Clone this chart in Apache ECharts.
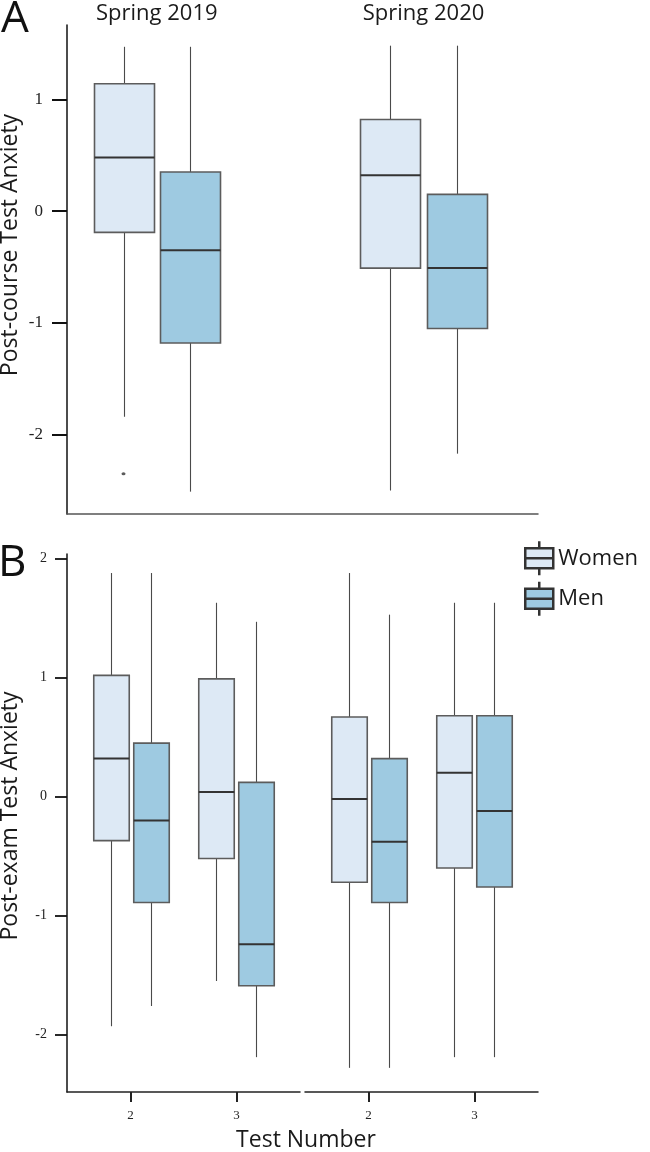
<!DOCTYPE html>
<html>
<head>
<meta charset="utf-8">
<script src="https://cdn.jsdelivr.net/npm/echarts@6/dist/echarts.min.js"></script>
<style>
html,body{margin:0;padding:0;background:#fff;}
#chart{width:650px;height:1152px;}
</style>
</head>
<body>
<div id="chart"></div>
<script>
// ---------- DATA ----------
const seasons = ['Spring 2019', 'Spring 2020'];
const seasonPos = [1, 2];
// Panel A (post-course): [min, Q1, median, Q3, max] per season
const courseWomen = [[-1.84, -0.19, 0.48, 1.14, 1.47], [-2.50, -0.51, 0.32, 0.82, 1.48]];
const courseMen   = [[-2.51, -1.18, -0.35, 0.35, 1.47], [-2.17, -1.05, -0.51, 0.15, 1.48]];
const courseWomenOutliers = [[1, -2.35]];
// Panel B (post-exam): [min, Q1, median, Q3, max] per test number
const tests = [2, 3];
const examWomen2019 = [[-1.93, -0.37, 0.32, 1.02, 1.88], [-1.55, -0.52, 0.04, 0.99, 1.63]];
const examMen2019   = [[-1.76, -0.89, -0.20, 0.45, 1.88], [-2.19, -1.59, -1.24, 0.12, 1.47]];
const examWomen2020 = [[-2.28, -0.72, -0.02, 0.67, 1.88], [-2.19, -0.60, 0.20, 0.68, 1.63]];
const examMen2020   = [[-2.28, -0.89, -0.38, 0.32, 1.53], [-2.19, -0.76, -0.12, 0.68, 1.63]];
const yTicksA = [-2, -1, 0, 1];
const yTicksB = [-2, -1, 0, 1, 2];
const groups = ['Women', 'Men'];

// ---------- STYLE ----------
const FILL = { Women: '#dde9f5', Men: '#9ecae1' };
const SANS = '"Open Sans", "Noto Sans", sans-serif';
const SERIF = '"Liberation Serif", "DejaVu Serif", serif';

function withPos(xs, stats) { return stats.map((s, i) => [xs[i]].concat(s)); }

function boxRenderer(offset, width, fill) {
  return function (params, api) {
    const x = api.value(0);
    const pMin = api.coord([x, api.value(1)]);
    const pQ1 = api.coord([x, api.value(2)]);
    const pMed = api.coord([x, api.value(3)]);
    const pQ3 = api.coord([x, api.value(4)]);
    const pMax = api.coord([x, api.value(5)]);
    const cx = Math.round(pMin[0] + offset) + 0.5;
    const hw = width / 2;
    return {
      type: 'group',
      children: [
        { type: 'line', shape: { x1: cx, y1: pMax[1], x2: cx, y2: pQ3[1] }, style: { stroke: '#4a4a4a', lineWidth: 1.1 } },
        { type: 'line', shape: { x1: cx, y1: pQ1[1], x2: cx, y2: pMin[1] }, style: { stroke: '#4a4a4a', lineWidth: 1.1 } },
        { type: 'rect', shape: { x: cx - hw, y: pQ3[1], width: width, height: pQ1[1] - pQ3[1] }, style: { fill: fill, stroke: '#5c5c5c', lineWidth: 1.6 } },
        { type: 'line', shape: { x1: cx - hw, y1: pMed[1], x2: cx + hw, y2: pMed[1] }, style: { stroke: '#333', lineWidth: 2 } }
      ]
    };
  };
}

function boxSeries(name, xi, yi, data, offset, width) {
  return {
    type: 'custom', name: name, xAxisIndex: xi, yAxisIndex: yi,
    itemStyle: { color: FILL[name] },
    dimensions: ['x', 'min', 'Q1', 'median', 'Q3', 'max'],
    encode: { x: 0, y: [1, 2, 3, 4, 5] },
    renderItem: boxRenderer(offset, width, FILL[name]),
    data: data, silent: true
  };
}

const LEGEND_ICON = 'path://M14,0L14,7M0,7L28,7L28,27L0,27ZM0,17L28,17M14,27L14,34';

const noSplit = { show: false };
const option = {
  animation: false,
  backgroundColor: '#fff',
  grid: [
    { left: 67, top: 25, width: 471, height: 489 },
    { left: 67, top: 554, width: 233, height: 538 },
    { left: 305, top: 554, width: 233, height: 538 }
  ],
  xAxis: [
    { type: 'value', gridIndex: 0, min: 0.6635, max: 2.429,
      axisLine: { show: true, onZero: false, lineStyle: { color: '#555', width: 1.5 } },
      axisTick: { show: false }, axisLabel: { show: false }, splitLine: noSplit },
    { type: 'value', gridIndex: 0, position: 'top', min: 0.6635, max: 2.429,
      axisLine: { show: false, onZero: false }, axisTick: { show: false }, splitLine: noSplit,
      axisLabel: { show: true, customValues: seasonPos, margin: 11, verticalAlign: 'middle',
        formatter: v => seasons[seasonPos.indexOf(v)] || '',
        fontFamily: SANS, fontSize: 22, color: '#1a1a1a' } },
    { type: 'value', gridIndex: 1, min: 1.4, max: 3.6,
      axisLine: { show: true, onZero: false, lineStyle: { color: '#222', width: 1.5 } },
      axisTick: { show: true, customValues: tests, length: 10, lineStyle: { color: '#222', width: 2 } },
      axisLabel: { show: true, customValues: tests, margin: 17, fontFamily: SERIF, fontSize: 13, color: '#222' },
      splitLine: noSplit },
    { type: 'value', gridIndex: 2, min: 1.4, max: 3.6,
      axisLine: { show: true, onZero: false, lineStyle: { color: '#222', width: 1.5 } },
      axisTick: { show: true, customValues: tests, length: 10, lineStyle: { color: '#222', width: 2 } },
      axisLabel: { show: true, customValues: tests, margin: 17, fontFamily: SERIF, fontSize: 13, color: '#222' },
      splitLine: noSplit }
  ],
  yAxis: [
    { type: 'value', gridIndex: 0, min: -2.71, max: 1.665,
      axisLine: { show: true, onZero: false, lineStyle: { color: '#111', width: 1.5 } },
      axisTick: { show: true, customValues: yTicksA, length: 15, lineStyle: { color: '#111', width: 2 } },
      axisLabel: { show: true, customValues: yTicksA, margin: 24, fontFamily: SERIF, fontSize: 17, color: '#222' },
      splitLine: noSplit },
    { type: 'value', gridIndex: 1, min: -2.483, max: 2.04,
      axisLine: { show: true, onZero: false, lineStyle: { color: '#111', width: 1.5 } },
      axisTick: { show: true, customValues: yTicksB, length: 12, lineStyle: { color: '#111', width: 1.8 } },
      axisLabel: { show: true, customValues: yTicksB, margin: 20, fontFamily: SERIF, fontSize: 14, color: '#222' },
      splitLine: noSplit },
    { type: 'value', gridIndex: 2, min: -2.483, max: 2.04, show: false, splitLine: noSplit }
  ],
  legend: {
    orient: 'vertical', left: 524, top: 540, padding: 0,
    itemWidth: 28, itemHeight: 34, itemGap: 4, selectedMode: false,
    textStyle: { fontFamily: SANS, fontSize: 22, color: '#1a1a1a' },
    data: groups.map(g => ({ name: g, icon: LEGEND_ICON,
      itemStyle: { color: FILL[g], borderColor: '#333', borderWidth: 2.5 } }))
  },
  graphic: [
    { type: 'text', x: 1, y: 19, style: { text: 'A', font: '44px ' + SANS, fill: '#111', align: 'left', verticalAlign: 'middle' } },
    { type: 'text', x: -2, y: 563, style: { text: 'B', font: '44px ' + SANS, fill: '#111', align: 'left', verticalAlign: 'middle' } },
    { type: 'text', x: 10, y: 245, rotation: Math.PI / 2, style: { text: 'Post-course Test Anxiety', font: '23px ' + SANS, fill: '#1a1a1a', align: 'center', verticalAlign: 'middle' } },
    { type: 'text', x: 10, y: 816, rotation: Math.PI / 2, style: { text: 'Post-exam Test Anxiety', font: '23px ' + SANS, fill: '#1a1a1a', align: 'center', verticalAlign: 'middle' } },
    { type: 'text', x: 306, y: 1140, style: { text: 'Test Number', font: '23px ' + SANS, fill: '#1a1a1a', align: 'center', verticalAlign: 'middle' } }
  ],
  series: [
    boxSeries('Women', 0, 0, withPos(seasonPos, courseWomen), -33.25, 60),
    boxSeries('Men', 0, 0, withPos(seasonPos, courseMen), 33.25, 60),
    { type: 'scatter', name: 'Women outliers', xAxisIndex: 0, yAxisIndex: 0,
      data: courseWomenOutliers, symbol: 'circle', symbolSize: [4, 3], symbolOffset: [-33.25, 0],
      itemStyle: { color: '#333' }, silent: true },
    boxSeries('Women', 2, 1, withPos(tests, examWomen2019), -20, 35.5),
    boxSeries('Men', 2, 1, withPos(tests, examMen2019), 20, 35.5),
    boxSeries('Women', 3, 2, withPos(tests, examWomen2020), -20, 35.5),
    boxSeries('Men', 3, 2, withPos(tests, examMen2020), 20, 35.5)
  ]
};

const chart = echarts.init(document.getElementById('chart'), null, { renderer: 'canvas' });
chart.setOption(option);
</script>
</body>
</html>
